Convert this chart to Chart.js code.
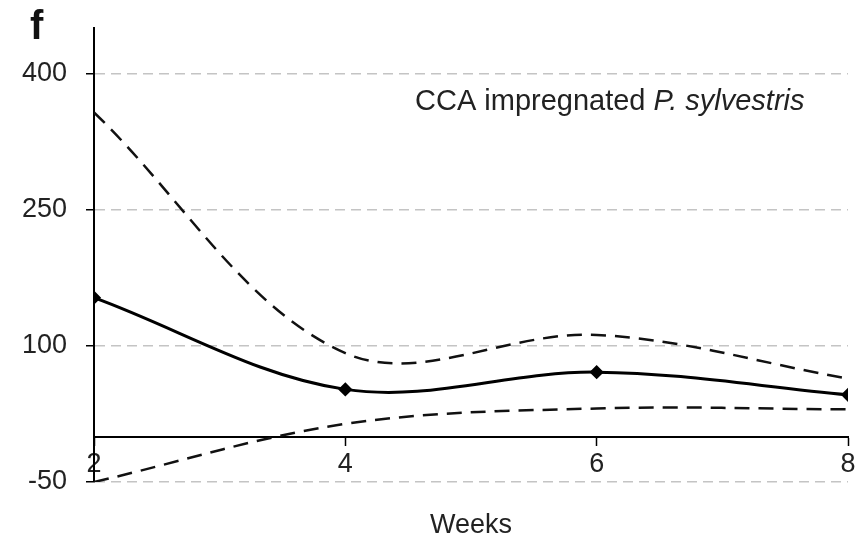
<!DOCTYPE html>
<html>
<head>
<meta charset="utf-8">
<script src="https://cdn.jsdelivr.net/npm/chart.js@4"></script>
<style>
  html, body { margin: 0; padding: 0; background: #fff; }
  #wrap { width: 865px; height: 539px; }
</style>
</head>
<body>
<div id="wrap"><canvas id="myChart"></canvas></div>
<script>
// weeks on the x axis
const weeks = [2, 4, 6, 8];
// mean value (solid line with markers)
const meanValues = [153, 52, 71, 46];
// upper and lower bounds (dashed lines)
const upperValues = [357, 92, 112, 64];
const lowerValues = [-50, 14, 31, 30];
// tick labels
const xTicks = [2, 4, 6, 8];
const yTicks = [-50, 100, 250, 400];

const FONT = "'Liberation Sans', Arial, sans-serif";

function toPoints(values) {
    return weeks.map((w, i) => ({ x: w, y: values[i] }));
}

// extra texts: panel letter, inside label and axis title
const textPlugin = {
    id: 'texts',
    afterDraw(chart) {
        const ctx = chart.ctx;
        const area = chart.chartArea;
        ctx.save();
        ctx.fillStyle = '#111';
        ctx.textBaseline = 'alphabetic';

        ctx.font = 'bold 40px ' + FONT;
        ctx.textAlign = 'left';
        ctx.fillText('f', 30, 39);

        ctx.fillStyle = '#222';
        ctx.font = '29px ' + FONT;
        const part1 = 'CCA impregnated ';
        ctx.fillText(part1, 415, 110);
        const w1 = ctx.measureText(part1).width;
        ctx.font = 'italic 29px ' + FONT;
        ctx.fillText('P. sylvestris', 415 + w1, 110);

        ctx.font = '27px ' + FONT;
        ctx.textAlign = 'center';
        ctx.fillText('Weeks', (area.left + area.right) / 2, 533);
        ctx.restore();
    }
};

const ctx = document.getElementById('myChart').getContext('2d');
const myChart = new Chart(ctx, {
    type: 'line',
    data: {
        datasets: [{
            label: 'Mean',
            data: toPoints(meanValues),
            borderColor: '#000',
            backgroundColor: '#000',
            borderWidth: 3,
            pointStyle: 'rectRot',
            pointRadius: 5,
            tension: 0.35,
            fill: false
        }, {
            label: 'Upper',
            data: toPoints(upperValues),
            borderColor: '#111',
            borderWidth: 2.5,
            borderDash: [15, 9],
            pointRadius: 0,
            tension: 0.35,
            fill: false
        }, {
            label: 'Lower',
            data: toPoints(lowerValues),
            borderColor: '#111',
            borderWidth: 2.5,
            borderDash: [15, 9],
            pointRadius: 0,
            tension: 0.35,
            fill: false
        }]
    },
    options: {
        responsive: true,
        maintainAspectRatio: false,
        animation: false,
        layout: {
            padding: { left: 0, right: 17, top: 28, bottom: 57 }
        },
        plugins: {
            legend: { display: false },
            tooltip: { enabled: false }
        },
        scales: {
            x: {
                type: 'linear',
                min: 2,
                max: 8,
                position: { y: 0 },
                afterBuildTicks: (scale) => { scale.ticks = xTicks.map(v => ({ value: v })); },
                grid: {
                    drawOnChartArea: false,
                    tickLength: 8,
                    tickColor: '#000',
                    tickWidth: 1.5
                },
                border: { color: '#000', width: 2 },
                ticks: {
                    color: '#222',
                    padding: 4,
                    font: { size: 27, family: FONT }
                }
            },
            y: {
                min: -50,
                max: 450,
                afterBuildTicks: (scale) => { scale.ticks = yTicks.map(v => ({ value: v })); },
                afterFit: (scale) => {
                    scale.width = 94;
                    scale.paddingTop = 10;
                    scale.paddingBottom = 10;
                },
                grid: {
                    color: '#c4c4c4',
                    lineWidth: 1.5,
                    tickColor: '#000',
                    tickWidth: 1.5,
                    tickLength: 8,
                    tickBorderDash: []
                },
                border: { color: '#000', width: 2, dash: [10, 6] },
                ticks: {
                    color: '#222',
                    padding: 19,
                    font: { size: 27, family: FONT }
                }
            }
        }
    },
    plugins: [textPlugin]
});
</script>
</body>
</html>
